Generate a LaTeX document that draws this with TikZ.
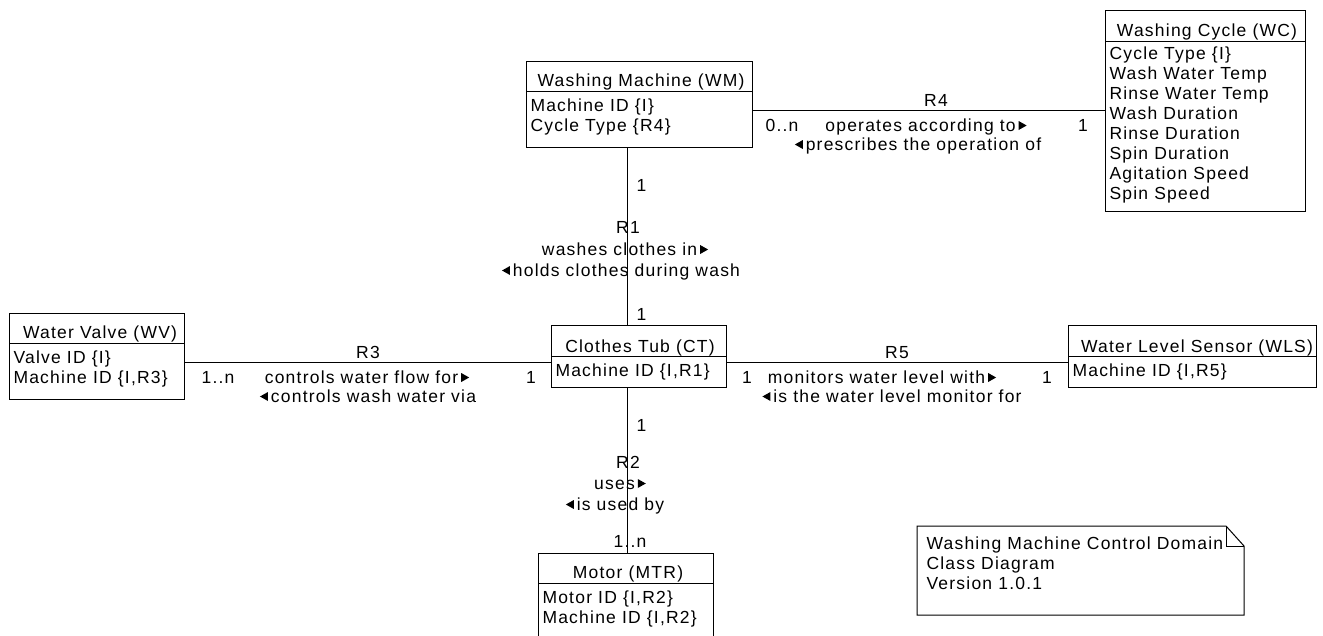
\documentclass[tikz,border=0pt]{standalone}
\usepackage{fontspec}
\setmainfont{Liberation Sans}[LetterSpace=7]
\newcommand\rarr{\,\tikz[x=1pt,y=1pt,baseline=0pt]\fill (0,1)--(0,10)--(8,5.5)--cycle;}
\newcommand\larr{\tikz[x=1pt,y=1pt,baseline=0pt]\fill (8,1)--(8,10)--(0,5.5)--cycle;\,}
\begin{document}
\begin{tikzpicture}[x=1pt,y=-1pt,line width=1pt,
  cls/.style={draw,rectangle,inner sep=0pt,anchor=north west},
  txt/.style={inner sep=0pt,font=\fontsize{17.5}{20}\selectfont},
  attr/.style={txt,anchor=base west},
  ttl/.style={txt,anchor=base},
  lbl/.style={txt,anchor=base}]
\useasboundingbox (0,0) rectangle (1323,635);
\clip (0,0) rectangle (1323,635);

% Washing Machine
\node[cls,minimum width=226pt,minimum height=86pt] (wm) at (526,61) {};
\draw (wm.west |- 0,91) -- (wm.east |- 0,91);
\node[ttl] (wmt) at (641,86) {Washing Machine (WM)};
\node[attr] (wma1) at (530,111) {Machine ID \{I\}};
\node[attr] (wma2) at (530,131) {Cycle Type \{R4\}};

% Washing Cycle
\node[cls,minimum width=200pt,minimum height=201pt] (wc) at (1105,10) {};
\draw (wc.west |- 0,41) -- (wc.east |- 0,41);
\node[ttl] (wct) at (1207,36) {Washing Cycle (WC)};
\node[attr] (wca1) at (1109,59) {Cycle Type \{I\}};
\node[attr] (wca2) at (1109,79) {Wash Water Temp};
\node[attr] (wca3) at (1109,99) {Rinse Water Temp};
\node[attr] (wca4) at (1109,119) {Wash Duration};
\node[attr] (wca5) at (1109,139) {Rinse Duration};
\node[attr] (wca6) at (1109,159) {Spin Duration};
\node[attr] (wca7) at (1109,179) {Agitation Speed};
\node[attr] (wca8) at (1109,199) {Spin Speed};

% Clothes Tub
\node[cls,minimum width=175pt,minimum height=62pt] (ct) at (551,325) {};
\draw (ct.west |- 0,356) -- (ct.east |- 0,356);
\node[ttl] (ctt) at (640,352) {Clothes Tub (CT)};
\node[attr] (cta1) at (555,376) {Machine ID \{I,R1\}};

% Water Valve
\node[cls,minimum width=175pt,minimum height=86pt] (wv) at (9,313) {};
\draw (wv.west |- 0,343) -- (wv.east |- 0,343);
\node[ttl] (wvt) at (100,338) {Water Valve (WV)};
\node[attr] (wva1) at (13,363) {Valve ID \{I\}};
\node[attr] (wva2) at (13,383) {Machine ID \{I,R3\}};

% Water Level Sensor
\node[cls,minimum width=248pt,minimum height=62pt] (wls) at (1068,325) {};
\draw (wls.west |- 0,356) -- (wls.east |- 0,356);
\node[ttl] (wlst) at (1197,352) {Water Level Sensor (WLS)};
\node[attr] (wlsa1) at (1072,376) {Machine ID \{I,R5\}};

% Motor
\node[cls,minimum width=175pt,minimum height=100pt] (mtr) at (538,553) {};
\draw (mtr.west |- 0,583) -- (mtr.east |- 0,583);
\node[ttl] (mtrt) at (628,578) {Motor (MTR)};
\node[attr] (mtra1) at (542,603) {Motor ID \{I,R2\}};
\node[attr] (mtra2) at (542,623) {Machine ID \{I,R2\}};

% Note
\node[inner sep=0pt,minimum width=326pt,minimum height=88pt,anchor=north west] (note) at (917,526) {};
\draw (note.north west) -- ([xshift=-18pt]note.north east) -- ([yshift=-20pt]note.north east)
  -- (note.south east) -- (note.south west) -- cycle;
\draw ([xshift=-18pt]note.north east) -- ([xshift=-18pt,yshift=-20pt]note.north east)
  -- ([yshift=-20pt]note.north east);
\node[attr] (n1) at (926,549) {Washing Machine Control Domain};
\node[attr] (n2) at (926,569) {Class Diagram};
\node[attr] (n3) at (926,589) {Version 1.0.1};

% R4
\draw (wm.east |- 0,110) -- (wc.west |- 0,110);
\node[lbl] (r4) at (936,106) {R4};
\node[lbl] (r4a) at (782,131) {0..n};
\node[lbl] (r4b) at (926,131) {operates according to\rarr};
\node[lbl] (r4c) at (1083,131) {1};
\node[lbl] (r4d) at (918,150) {\larr prescribes the operation of};

% R1
\draw (wm.south -| 627,0) -- (ct.north -| 627,0);
\node[attr] (r1a) at (636,191) {1};
\node[lbl] (r1) at (628,233) {R1};
\node[lbl] (r1b) at (625,255) {washes clothes in\rarr};
\node[lbl] (r1c) at (621,276) {\larr holds clothes during wash};
\node[attr] (r1d) at (636,320) {1};

% R3
\draw (wv.east |- 0,362) -- (ct.west |- 0,362);
\node[lbl] (r3) at (368,358) {R3};
\node[lbl] (r3a) at (218,383) {1..n};
\node[lbl] (r3b) at (367,383) {controls water flow for\rarr};
\node[lbl] (r3c) at (531,383) {1};
\node[lbl] (r3d) at (368,402) {\larr controls wash water via};

% R5
\draw (ct.east |- 0,362) -- (wls.west |- 0,362);
\node[lbl] (r5) at (897,358) {R5};
\node[lbl] (r5a) at (747,383) {1};
\node[lbl] (r5b) at (882,383) {monitors water level with\rarr};
\node[lbl] (r5c) at (1047,383) {1};
\node[lbl] (r5d) at (892,402) {\larr is the water level monitor for};

% R2
\draw (ct.south -| 627,0) -- (mtr.north -| 627,0);
\node[attr] (r2a) at (636,431) {1};
\node[lbl] (r2) at (628,468) {R2};
\node[lbl] (r2b) at (620,489) {uses\rarr};
\node[lbl] (r2c) at (615,510) {\larr is used by};
\node[lbl] (r2d) at (630,547) {1..n};
\end{tikzpicture}
\end{document}
